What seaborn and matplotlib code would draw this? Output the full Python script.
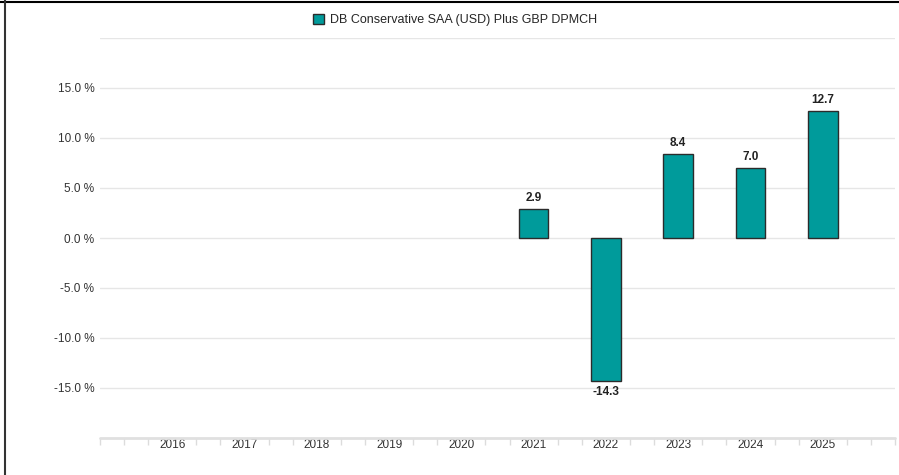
import numpy as np
import pandas as pd
import matplotlib
matplotlib.use('Agg')
import matplotlib.pyplot as plt
from matplotlib.lines import Line2D
from matplotlib.patches import Patch
import seaborn as sns

# chart data
years = ['2016', '2017', '2018', '2019', '2020', '2021', '2022', '2023', '2024', '2025']
returns = [np.nan, np.nan, np.nan, np.nan, np.nan, 2.9, -14.3, 8.4, 7.0, 12.7]
series_name = 'DB Conservative SAA (USD) Plus GBP DPMCH'
y_ticks = [-15, -10, -5, 0, 5, 10, 15]

BAR_COLOR = '#009b9b'
EDGE_COLOR = '#2b2b2b'

sns.set_style('white')
plt.rcParams['font.family'] = ['Liberation Sans', 'DejaVu Sans']

df = pd.DataFrame({'year': years, 'ret': returns})

fig = plt.figure(figsize=(8.99, 4.75), dpi=100)
ax = fig.add_axes([100 / 899, 37 / 475, 795 / 899, 400 / 475])

sns.barplot(data=df, x='year', y='ret', order=years, color=BAR_COLOR,
            saturation=1, width=0.41, edgecolor=EDGE_COLOR, linewidth=1.0,
            ax=ax, zorder=3)

ax.set_xlim(-1, len(years))
ax.set_ylim(-20, 20)

# gridlines
for y in range(-15, 25, 5):
    ax.axhline(y, color='#e6e6e6', linewidth=1.0, zorder=0)
ax.axhline(-20, color='#e0e0e0', linewidth=2.0, zorder=1, clip_on=False)

ax.set_yticks(y_ticks)
ax.set_yticklabels([f'{v:.1f} %' for v in y_ticks], fontsize=8.5, color='#333333')
ax.tick_params(axis='y', length=0, pad=4)

ax.set_xticks(range(len(years)))
ax.set_xticklabels(years, fontsize=8.5, color='#333333')
ax.tick_params(axis='x', which='major', bottom=False, length=0, pad=1)
minor = [i / 3 for i in range(-3, 3 * len(years) + 1) if i % 3 != 0 or i in (-3, 3 * len(years))]
ax.set_xticks(minor, minor=True)
ax.tick_params(axis='x', which='minor', bottom=True, length=5, width=1, color='#dcdcdc')

ax.set_xlabel('')
ax.set_ylabel('')
for s in ax.spines.values():
    s.set_visible(False)

# value labels
for i, v in enumerate(returns):
    if np.isnan(v):
        continue
    if v >= 0:
        ax.text(i, v + 0.5, f'{v:.1f}', ha='center', va='bottom', fontsize=8.5,
                fontweight='bold', color='#222222')
    else:
        ax.text(i, v - 0.5, f'{v:.1f}', ha='center', va='top', fontsize=8.5,
                fontweight='bold', color='#222222')

# legend
handle = Patch(facecolor=BAR_COLOR, edgecolor=EDGE_COLOR, linewidth=1.0)
fig.legend([handle], [series_name], loc='center', bbox_to_anchor=(455 / 899, 1 - 20 / 475),
           frameon=False, fontsize=9, handlelength=0.9, handleheight=0.9,
           handletextpad=0.5)

# outer frame (top and left only)
fig.add_artist(Line2D([0, 1], [1 - 1.5 / 475] * 2, transform=fig.transFigure,
                      color='black', linewidth=1.5))
fig.add_artist(Line2D([4.5 / 899] * 2, [0, 1], transform=fig.transFigure,
                      color='#333333', linewidth=1.5))

fig.savefig('out.png', dpi=100)
